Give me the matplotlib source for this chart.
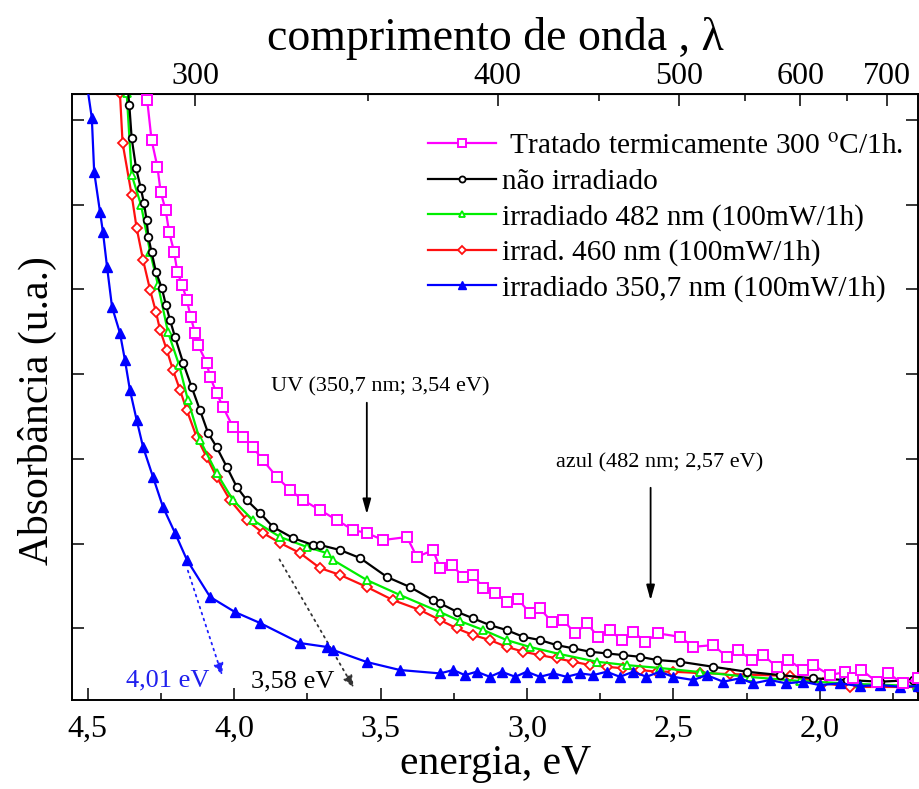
import matplotlib
matplotlib.use('Agg')
import matplotlib.pyplot as plt
from matplotlib.ticker import FixedLocator, FuncFormatter
import numpy as np

plt.rcParams['font.family'] = ['Liberation Serif', 'DejaVu Serif']
plt.rcParams['mathtext.fontset'] = 'stix'

# energia (eV) e absorbancia (u.a.)
E_trat = [4.304, 4.297, 4.282, 4.262, 4.251, 4.234, 4.222, 4.205, 4.194, 4.177, 4.162, 4.148, 4.134, 4.123,
          4.094, 4.082, 4.060, 4.038, 4.004, 3.970, 3.936, 3.902, 3.854, 3.809, 3.765, 3.707, 3.649, 3.594,
          3.547, 3.492, 3.410, 3.376, 3.321, 3.297, 3.257, 3.218, 3.184, 3.149, 3.109, 3.070, 3.030, 2.990,
          2.956, 2.916, 2.876, 2.836, 2.796, 2.757, 2.717, 2.677, 2.637, 2.597, 2.552, 2.478, 2.432, 2.364,
          2.318, 2.279, 2.233, 2.193, 2.148, 2.108, 2.057, 2.023, 1.966, 1.915, 1.886, 1.858, 1.806, 1.767,
          1.716, 1.664]
A_trat = [3.737, 3.619, 3.382, 3.223, 3.076, 2.969, 2.839, 2.721, 2.603, 2.526, 2.438, 2.338, 2.243, 2.172,
          2.066, 1.983, 1.889, 1.806, 1.688, 1.629, 1.570, 1.493, 1.393, 1.316, 1.257, 1.198, 1.139, 1.080,
          1.063, 1.021, 1.039, 0.921, 0.962, 0.856, 0.874, 0.805, 0.815, 0.736, 0.707, 0.657, 0.671, 0.589,
          0.618, 0.539, 0.549, 0.470, 0.530, 0.450, 0.490, 0.431, 0.480, 0.421, 0.470, 0.450, 0.391, 0.401,
          0.332, 0.372, 0.313, 0.342, 0.273, 0.313, 0.254, 0.283, 0.224, 0.242, 0.205, 0.254, 0.185, 0.234,
          0.175, 0.205]

E_nao = [4.366, 4.358, 4.350, 4.335, 4.319, 4.308, 4.299, 4.293, 4.282, 4.267, 4.247, 4.233, 4.219, 4.202,
         4.174, 4.145, 4.117, 4.089, 4.060, 4.025, 3.991, 3.957, 3.912, 3.867, 3.799, 3.731, 3.707, 3.638,
         3.570, 3.478, 3.400, 3.321, 3.297, 3.240, 3.184, 3.127, 3.070, 3.013, 2.956, 2.899, 2.842, 2.785,
         2.728, 2.671, 2.614, 2.557, 2.478, 2.364, 2.250, 2.136, 2.023, 1.909, 1.795, 1.681]
A_nao = [3.737, 3.589, 3.394, 3.217, 3.099, 3.011, 2.910, 2.810, 2.721, 2.603, 2.509, 2.408, 2.320, 2.220,
         2.066, 1.924, 1.789, 1.653, 1.570, 1.452, 1.334, 1.257, 1.181, 1.098, 1.033, 0.992, 0.992, 0.962,
         0.915, 0.803, 0.744, 0.667, 0.648, 0.598, 0.559, 0.519, 0.490, 0.450, 0.431, 0.401, 0.382, 0.362,
         0.352, 0.342, 0.332, 0.313, 0.303, 0.273, 0.244, 0.224, 0.205, 0.195, 0.185, 0.195]

E_482 = [4.376, 4.367, 4.350, 4.318, 4.287, 4.260, 4.226, 4.188, 4.158, 4.117, 4.060, 4.004, 3.936, 3.843,
         3.751, 3.683, 3.662, 3.547, 3.434, 3.297, 3.229, 3.149, 3.070, 2.990, 2.888, 2.762, 2.660, 2.547,
         2.410, 2.239, 2.069, 1.864, 1.669]
A_482 = [3.737, 3.660, 3.176, 2.999, 2.721, 2.526, 2.249, 2.054, 1.848, 1.612, 1.417, 1.257, 1.139, 1.039,
         0.980, 0.944, 0.903, 0.785, 0.697, 0.596, 0.543, 0.490, 0.431, 0.390, 0.348, 0.303, 0.283, 0.266,
         0.242, 0.213, 0.189, 0.171, 0.160]

E_460 = [4.397, 4.390, 4.381, 4.350, 4.333, 4.311, 4.287, 4.267, 4.253, 4.230, 4.209, 4.185, 4.162, 4.128,
         4.094, 4.060, 4.014, 3.957, 3.902, 3.843, 3.775, 3.707, 3.638, 3.547, 3.458, 3.365, 3.297, 3.240,
         3.184, 3.127, 3.070, 3.013, 2.956, 2.899, 2.842, 2.785, 2.728, 2.671, 2.614, 2.557, 2.501, 2.410,
         2.307, 2.102, 1.989, 1.898, 1.669]
A_460 = [3.737, 3.660, 3.365, 3.058, 2.863, 2.674, 2.497, 2.367, 2.261, 2.143, 2.025, 1.907, 1.789, 1.629,
         1.511, 1.393, 1.257, 1.139, 1.063, 1.004, 0.944, 0.856, 0.815, 0.744, 0.667, 0.608, 0.549, 0.500,
         0.460, 0.431, 0.391, 0.362, 0.342, 0.323, 0.303, 0.283, 0.273, 0.264, 0.254, 0.244, 0.244, 0.236,
         0.230, 0.219, 0.177, 0.154, 0.154]

E_350 = [4.505, 4.486, 4.478, 4.458, 4.448, 4.434, 4.417, 4.390, 4.373, 4.356, 4.333, 4.311, 4.277, 4.243,
         4.202, 4.161, 4.082, 3.997, 3.911, 3.775, 3.683, 3.662, 3.547, 3.434, 3.297, 3.252, 3.212, 3.172,
         3.127, 3.087, 3.040, 3.001, 2.956, 2.910, 2.865, 2.819, 2.774, 2.728, 2.683, 2.637, 2.592, 2.547,
         2.501, 2.432, 2.387, 2.330, 2.273, 2.228, 2.171, 2.114, 2.057, 2.000, 1.932, 1.863, 1.795, 1.727,
         1.665]
A_350 = [3.737, 3.512, 3.194, 2.957, 2.839, 2.633, 2.397, 2.243, 2.084, 1.907, 1.730, 1.570, 1.393, 1.216,
         1.063, 0.903, 0.685, 0.596, 0.531, 0.413, 0.390, 0.372, 0.301, 0.254, 0.234, 0.254, 0.224, 0.244,
         0.214, 0.244, 0.214, 0.244, 0.214, 0.234, 0.214, 0.234, 0.224, 0.244, 0.214, 0.244, 0.214, 0.244,
         0.214, 0.195, 0.224, 0.185, 0.205, 0.175, 0.195, 0.175, 0.185, 0.165, 0.175, 0.159, 0.165, 0.155,
         0.159]

energy_ticks = [4.5, 4.0, 3.5, 3.0, 2.5, 2.0]
lambda_ticks = [300, 400, 500, 600, 700]
lambda_minor = [350, 450, 550, 650]

fig = plt.figure(figsize=(9.2, 7.89), dpi=100)
ax = fig.add_axes([0.0788, 0.1128, 0.919, 0.7681])

l_nao, = ax.plot(E_nao, A_nao, '-o', color='black', lw=1.6, ms=5.5, mfc='white', mew=1.3, zorder=3,
                 label='não irradiado')
l_482, = ax.plot(E_482, A_482, '-^', color='#00ee00', lw=1.6, ms=5.5, mfc='white', mew=1.3, zorder=2,
                 label='irradiado 482 nm (100mW/1h)')
l_460, = ax.plot(E_460, A_460, '-D', color='#ff1010', lw=1.6, ms=5, mfc='white', mew=1.3, zorder=1,
                 label='irrad. 460 nm (100mW/1h)')
l_350, = ax.plot(E_350, A_350, '-^', color='#0000ff', lw=1.6, ms=7, mew=1, zorder=4,
                 label='irradiado 350,7 nm (100mW/1h)')
l_trat, = ax.plot(E_trat, A_trat, '-s', color='#ff00ff', lw=1.6, ms=6.5, mfc='white', mew=1.4, zorder=5,
                  label=r' Tratado termicamente 300 $^\mathrm{o}$C/1h.')

ax.set_xlim(4.552, 1.665)
ax.set_ylim(0.077, 3.654)

ax.set_xticks(energy_ticks)
ax.xaxis.set_minor_locator(FixedLocator([4.25, 3.75, 3.25, 2.75, 2.25, 1.75]))
ax.xaxis.set_major_formatter(FuncFormatter(lambda v, p: f'{v:.1f}'.replace('.', ',')))
ax.set_yticks([0.5, 1.0, 1.5, 2.0, 2.5, 3.0, 3.5])
ax.set_yticklabels([])
ax.tick_params(axis='both', which='major', direction='in', length=8.5, width=1.1, labelsize=23, pad=11)
ax.tick_params(axis='both', which='minor', direction='in', length=5, width=1.1)
ax.tick_params(top=False, right=True, which='both')
for s in ax.spines.values():
    s.set_linewidth(1.4)

ax.set_xlabel('energia, eV', fontsize=30, labelpad=0)
ax.set_ylabel('Absorbância (u.a.)', fontsize=30)
ax.yaxis.set_label_coords(-0.018, 0.478)

sec = ax.secondary_xaxis('top', functions=(lambda e: 1240.0 / np.clip(e, 1e-6, None),
                                            lambda l: 1240.0 / np.clip(l, 1e-6, None)))
sec.set_xticks(lambda_ticks)
sec.xaxis.set_minor_locator(FixedLocator(lambda_minor))
sec.tick_params(which='major', direction='in', length=8.5, width=1.1, labelsize=23, pad=2)
sec.tick_params(which='minor', direction='in', length=5, width=1.1)
sec.set_xlabel('comprimento de onda , λ', fontsize=33, labelpad=9)

# setas de anotacao
ax.annotate('', xy=(3.547, 1.157), xytext=(3.547, 1.848),
            arrowprops=dict(arrowstyle='-|>,head_width=0.25,head_length=0.9', color='black', lw=1.3))
ax.text(3.502, 1.924, 'UV (350,7 nm; 3,54 eV)', fontsize=16, ha='center', va='center')
ax.annotate('', xy=(2.578, 0.649), xytext=(2.578, 1.346),
            arrowprops=dict(arrowstyle='-|>,head_width=0.25,head_length=0.9', color='black', lw=1.3))
ax.text(2.546, 1.476, 'azul (482 nm; 2,57 eV)', fontsize=16, ha='center', va='center')

ax.annotate('', xy=(4.038, 0.207), xytext=(4.161, 0.856),
            arrowprops=dict(arrowstyle='-|>,head_width=0.3,head_length=0.7', color='#2020ff', lw=1.3,
                            linestyle=(0, (1, 2.5))))
ax.text(4.226, 0.195, '4,01 eV', fontsize=19, color='#2020ee', ha='center', va='center')
ax.annotate('', xy=(3.587, 0.136), xytext=(3.850, 0.921),
            arrowprops=dict(arrowstyle='-|>,head_width=0.3,head_length=0.7', color='#333333', lw=1.3,
                            linestyle=(0, (1, 2.5))))
ax.text(3.801, 0.185, '3,58 eV', fontsize=19, color='black', ha='center', va='center')

handles = [l_trat, l_nao, l_482, l_460, l_350]
leg = ax.legend(handles=handles, loc='upper left', bbox_to_anchor=(0.421, 0.936), frameon=False,
                fontsize=21.2, handlelength=2.3, handletextpad=0.2, labelspacing=0.3,
                borderpad=0, borderaxespad=0, numpoints=1, markerscale=0.8)

fig.savefig('out.png', dpi=100)
